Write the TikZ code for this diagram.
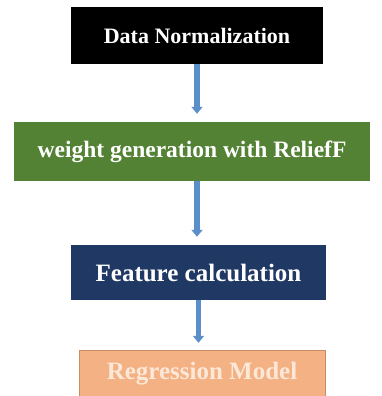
\documentclass[tikz,border=0pt]{standalone}
\usepackage{fontspec}
\setmainfont{Liberation Serif}
\usetikzlibrary{arrows.meta}
\definecolor{stepgreen}{RGB}{84,130,53}
\definecolor{stepnavy}{RGB}{32,56,100}
\definecolor{steporange}{RGB}{244,177,131}
\definecolor{orangeline}{RGB}{200,140,100}
\definecolor{orangetext}{RGB}{252,232,216}
\definecolor{flowblue}{RGB}{91,143,201}
\tikzset{>={Triangle[length=7pt,width=11pt]}}
\tikzset{stepbox/.style={rectangle, inner sep=0pt, text=white, font=\bfseries}}
\tikzset{flow/.style={->, line width=5.5pt, flowblue, shorten >=8pt}}

\begin{document}
\begin{tikzpicture}[x=1pt,y=-1pt]
\useasboundingbox[fill=white] (0,0) rectangle (381,396);
\node[stepbox, fill=black, minimum width=252pt, minimum height=57pt, font=\bfseries\fontsize{22}{24}\selectfont] (norm) at (197,35.5) {Data Normalization};
\node[stepbox, fill=stepgreen, minimum width=356pt, minimum height=59pt, font=\bfseries\fontsize{23.5}{26}\selectfont] (relief) at (192,151.5) {weight generation with ReliefF};
\node[stepbox, fill=stepnavy, minimum width=255pt, minimum height=55pt, font=\bfseries\fontsize{25}{28}\selectfont] (feat) at (198.5,272.5) {Feature calculation};
\node[stepbox, fill=steporange, draw=orangeline, text=orangetext, minimum width=246pt, minimum height=48pt, font=\bfseries\fontsize{25}{28}\selectfont] (model) at (202,374) {Regression Model};
\draw[flow] (norm.south) -- (norm.south |- relief.north);
\draw[flow] (relief.south -| norm.south) -- (norm.south |- feat.north);
\draw[flow, shorten >=7pt] (feat.south) -- (feat.south |- model.north);
\end{tikzpicture}
\end{document}
